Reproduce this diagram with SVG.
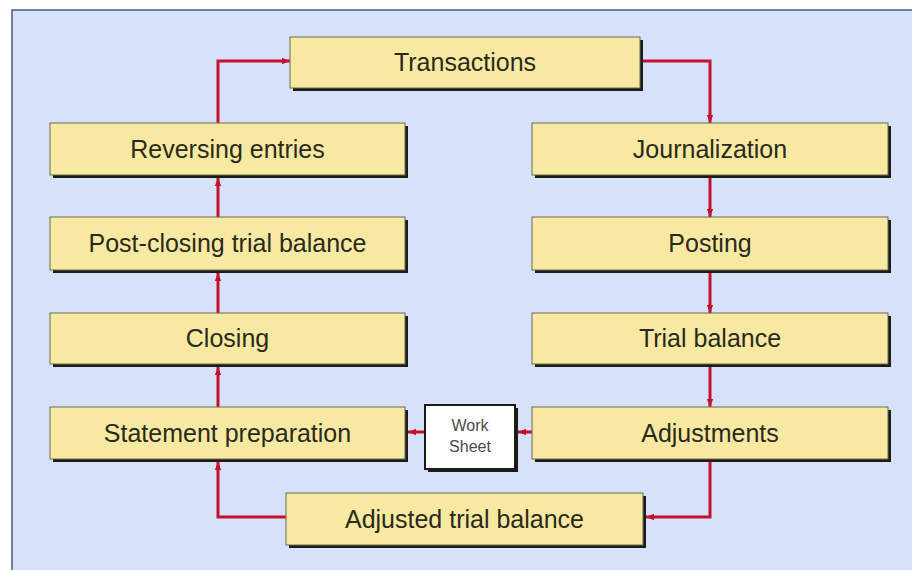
<svg xmlns="http://www.w3.org/2000/svg" width="912" height="570" viewBox="0 0 912 570">
<defs>
<style>
.bx{fill:#f8e9a2;stroke:#6b6a52;stroke-width:1}
.sh{fill:#1c1c14}
.t{font-family:"Liberation Sans",Arial,sans-serif;font-size:25px;fill:#2a2a1c;text-anchor:middle}
.ws{font-family:"Liberation Sans",Arial,sans-serif;font-size:16px;fill:#4a4a4a;text-anchor:middle}
.c{fill:none;stroke:#c8102e;stroke-width:3;marker-end:url(#ah)}
</style>
<marker id="ah" markerUnits="userSpaceOnUse" markerWidth="8" markerHeight="8" viewBox="0 0 10 10" refX="10" refY="5" orient="auto">
<path d="M0,1 L10,5 L0,9 Z" fill="#c8102e"/>
</marker>
</defs>
<rect x="0" y="0" width="912" height="570" fill="#ffffff"/>
<rect x="12" y="10" width="902" height="562" fill="#d5e2fa" stroke="#4d5a74" stroke-width="1.5"/>
<g id="connectors">
<path class="c" d="M218,123 V61 H290"/>
<path class="c" d="M640,61 H710 V123"/>
<path class="c" d="M710,178 V217"/>
<path class="c" d="M710,273 V313"/>
<path class="c" d="M710,367 V407"/>
<path class="c" d="M710,462 V517 H646"/>
<path class="c" d="M286,517 H218 V462"/>
<path class="c" d="M218,407 V367"/>
<path class="c" d="M218,313 V273"/>
<path class="c" d="M218,217 V178"/>
<path class="c" d="M532,432 H518"/>
<path class="c" d="M425,432 H408"/>
</g>
<g id="transactions"><rect class="sh" x="293" y="40" width="350" height="51"/><rect class="bx" x="290" y="37" width="350" height="51"/><text class="t" x="465" y="71">Transactions</text></g>
<g id="reversing"><rect class="sh" x="53" y="126" width="355" height="52"/><rect class="bx" x="50" y="123" width="355" height="52"/><text class="t" x="227.5" y="158">Reversing entries</text></g>
<g id="journalization"><rect class="sh" x="535" y="126" width="356" height="52"/><rect class="bx" x="532" y="123" width="356" height="52"/><text class="t" x="710" y="158">Journalization</text></g>
<g id="postclosing"><rect class="sh" x="53" y="220" width="355" height="53"/><rect class="bx" x="50" y="217" width="355" height="53"/><text class="t" x="227.5" y="252">Post-closing trial balance</text></g>
<g id="posting"><rect class="sh" x="535" y="220" width="356" height="53"/><rect class="bx" x="532" y="217" width="356" height="53"/><text class="t" x="710" y="252">Posting</text></g>
<g id="closing"><rect class="sh" x="53" y="316" width="355" height="51"/><rect class="bx" x="50" y="313" width="355" height="51"/><text class="t" x="227.5" y="347">Closing</text></g>
<g id="trialbalance"><rect class="sh" x="535" y="316" width="356" height="51"/><rect class="bx" x="532" y="313" width="356" height="51"/><text class="t" x="710" y="347">Trial balance</text></g>
<g id="statement"><rect class="sh" x="53" y="410" width="355" height="52"/><rect class="bx" x="50" y="407" width="355" height="52"/><text class="t" x="227.5" y="442">Statement preparation</text></g>
<g id="adjustments"><rect class="sh" x="535" y="410" width="356" height="52"/><rect class="bx" x="532" y="407" width="356" height="52"/><text class="t" x="710" y="442">Adjustments</text></g>
<g id="adjustedtb"><rect class="sh" x="289" y="496" width="357" height="52"/><rect class="bx" x="286" y="493" width="357" height="52"/><text class="t" x="464.5" y="528">Adjusted trial balance</text></g>
<g id="worksheet"><rect class="sh" x="428" y="408" width="90" height="64"/><rect x="425" y="405" width="90" height="64" fill="#ffffff" stroke="#1c1c14" stroke-width="2"/><text class="ws" x="470" y="431">Work</text><text class="ws" x="470" y="452">Sheet</text></g>
</svg>
